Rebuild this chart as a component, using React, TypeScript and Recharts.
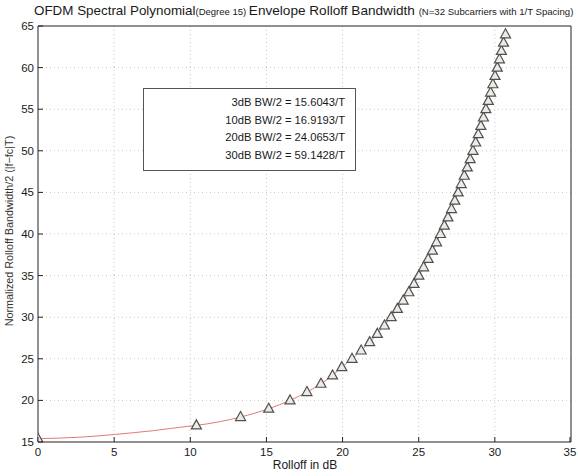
import React from "react";
import { ComposedChart, Line, Scatter, XAxis, YAxis, CartesianGrid } from "recharts";

// Rolloff (dB) -> normalized bandwidth markers
const markerX = [0, 10.4, 13.3, 15.15, 16.55, 17.66, 18.58, 19.34, 19.95, 20.62, 21.22, 21.78, 22.28, 22.75, 23.19, 23.6, 23.98, 24.35, 24.69, 25.01, 25.32, 25.62, 25.9, 26.17, 26.43, 26.68, 26.92, 27.15, 27.37, 27.59, 27.79, 27.99, 28.19, 28.38, 28.56, 28.74, 28.91, 29.08, 29.25, 29.41, 29.57, 29.72, 29.87, 30.01, 30.16, 30.3, 30.43, 30.57, 30.7];
const markerY = [15.4, 17, 18, 19, 20, 21, 22, 23, 24, 25, 26, 27, 28, 29, 30, 31, 32, 33, 34, 35, 36, 37, 38, 39, 40, 41, 42, 43, 44, 45, 46, 47, 48, 49, 50, 51, 52, 53, 54, 55, 56, 57, 58, 59, 60, 61, 62, 63, 64];
const curveX = [0, 3, 5, 7.5, 10];
const curveY = [15.4, 15.6043, 15.9, 16.35, 16.9193];

const xTicks = [0, 5, 10, 15, 20, 25, 30, 35];
const yTicks = [15, 20, 25, 30, 35, 40, 45, 50, 55, 60, 65];
const legendLines = [
  "3dB BW/2 = 15.6043/T",
  "10dB BW/2 = 16.9193/T",
  "20dB BW/2 = 24.0653/T",
  "30dB BW/2 = 59.1428/T",
];

const markers = markerX.map((x, i) => ({ x, y: markerY[i] }));
const curve = [
  ...curveX.map((x, i) => ({ x, y: curveY[i] })),
  ...markers.filter((m) => m.x > 10),
].sort((a, b) => a.x - b.x);

const FONT = "'Liberation Sans', Arial, Helvetica, sans-serif";

const Tri = (props: any) => {
  const { cx, cy } = props;
  if (cx == null || cy == null) return null;
  return (
    <polygon
      points={`${cx},${cy - 5.5} ${cx - 5},${cy + 3.5} ${cx + 5},${cy + 3.5}`}
      fill="#ecebe6"
      stroke="#505050"
      strokeWidth={1.2}
    />
  );
};

const BottomTick = (props: any) => {
  const { x, y, payload } = props;
  return (
    <g>
      <line x1={x} x2={x} y1={y} y2={y - 5} stroke="#222" />
      <text x={x} y={y + 14} textAnchor="middle" fontSize={11.5} fontFamily={FONT} fill="#1a1a1a">
        {payload.value}
      </text>
    </g>
  );
};
const TopTick = (props: any) => {
  const { x, y } = props;
  return <line x1={x} x2={x} y1={y} y2={y + 5} stroke="#222" />;
};
const LeftTick = (props: any) => {
  const { x, y, payload } = props;
  return (
    <g>
      <line x1={x} x2={x + 5} y1={y} y2={y} stroke="#222" />
      <text x={x - 4} y={y + 4} textAnchor="end" fontSize={11.5} fontFamily={FONT} fill="#1a1a1a">
        {payload.value}
      </text>
    </g>
  );
};
const RightTick = (props: any) => {
  const { x, y } = props;
  return <line x1={x} x2={x - 5} y1={y} y2={y} stroke="#222" />;
};

export default function App() {
  return (
    <div style={{ position: "absolute", left: 0, top: 0, width: 578, height: 476, background: "#fff", fontFamily: FONT }}>
      <ComposedChart
        width={578}
        height={476}
        margin={{ top: 0, right: 0, bottom: 0, left: 0 }}
      >
        <CartesianGrid
          xAxisId="b"
          yAxisId="l"
          stroke="#c8c8c8"
          strokeDasharray="1 3"
          verticalValues={[5, 10, 15, 20, 25, 30]}
          horizontalValues={[20, 25, 30, 35, 40, 45, 50, 55, 60]}
        />
        <XAxis
          xAxisId="b"
          type="number"
          dataKey="x"
          domain={[0, 35]}
          ticks={xTicks}
          height={34}
          tickSize={0}
          tickMargin={0}
          tickLine={false}
          tick={<BottomTick />}
          axisLine={{ stroke: "#222" }}
          allowDataOverflow
        />
        <XAxis
          xAxisId="t"
          orientation="top"
          type="number"
          dataKey="x"
          domain={[0, 35]}
          ticks={xTicks}
          height={26}
          tickSize={0}
          tickMargin={0}
          tickLine={false}
          tick={<TopTick />}
          axisLine={{ stroke: "#222" }}
        />
        <YAxis
          yAxisId="l"
          type="number"
          dataKey="y"
          domain={[15, 65]}
          ticks={yTicks}
          width={38}
          tickSize={0}
          tickMargin={0}
          tickLine={false}
          tick={<LeftTick />}
          axisLine={{ stroke: "#222" }}
          allowDataOverflow
        />
        <YAxis
          yAxisId="r"
          orientation="right"
          type="number"
          dataKey="y"
          domain={[15, 65]}
          ticks={yTicks}
          width={7}
          tickSize={0}
          tickMargin={0}
          tickLine={false}
          tick={<RightTick />}
          axisLine={{ stroke: "#222" }}
        />
        <Line
          xAxisId="b"
          yAxisId="l"
          data={curve}
          dataKey="y"
          type="monotone"
          stroke="#e07a7a"
          strokeWidth={1}
          dot={false}
          isAnimationActive={false}
        />
        <Scatter
          xAxisId="b"
          yAxisId="l"
          data={markers}
          dataKey="y"
          shape={<Tri />}
          isAnimationActive={false}
        />
      </ComposedChart>

      <div style={{ position: "absolute", left: 34, top: 1, whiteSpace: "nowrap", color: "#1a1a1a", lineHeight: "17px" }}>
        <span style={{ fontSize: 13.4 }}>OFDM Spectral Polynomial</span>
        <span style={{ fontSize: 9.5 }}>(Degree 15) </span>
        <span style={{ fontSize: 13.6 }}>Envelope Rolloff Bandwidth </span>
        <span style={{ fontSize: 9.6 }}>(N=32 Subcarriers with 1/T Spacing)</span>
      </div>

      <div
        style={{
          position: "absolute",
          left: 143,
          top: 88,
          width: 213,
          height: 83,
          border: "1px solid #555",
          background: "#fff",
          boxSizing: "border-box",
        }}
      >
        {legendLines.map((t, i) => (
          <div
            key={i}
            style={{
              position: "absolute",
              right: 10,
              top: 7 + i * 17.5,
              fontSize: 11.2,
              color: "#1a1a1a",
              whiteSpace: "nowrap",
            }}
          >
            {t}
          </div>
        ))}
      </div>

      <div style={{ position: "absolute", left: 250, top: 458, width: 110, textAlign: "center", fontSize: 12, color: "#1a1a1a" }}>
        Rolloff in dB
      </div>

      <div
        style={{
          position: "absolute",
          left: 9 - 150,
          top: 231 - 8,
          width: 300,
          height: 16,
          lineHeight: "16px",
          textAlign: "center",
          fontSize: 10.8,
          color: "#333",
          whiteSpace: "nowrap",
          transform: "rotate(-90deg)",
        }}
      >
        Normalized Rolloff Bandwidth/2 (|f−fc|T)
      </div>
    </div>
  );
}
